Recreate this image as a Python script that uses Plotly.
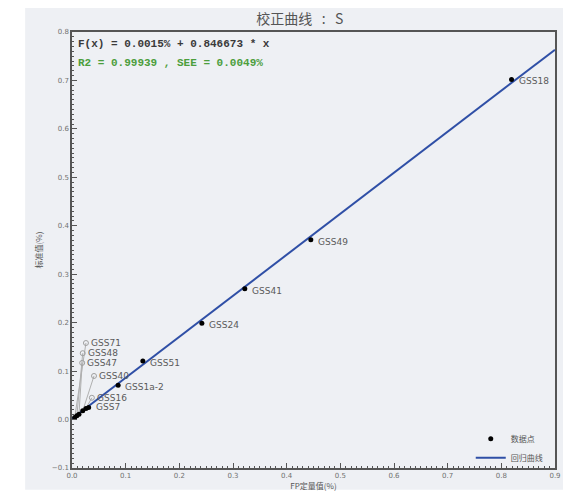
import numpy as np
import plotly.graph_objects as go

# ---- data ----
sample_names = ["GSS18", "GSS49", "GSS41", "GSS24", "GSS51", "GSS1a-2",
                "GSS7", "GSS16", "GSS40", "GSS47", "GSS48", "GSS71"]
fp_values = [0.819, 0.445, 0.322, 0.242, 0.132, 0.086,
             0.031, 0.026, 0.020, 0.013, 0.009, 0.005]
std_values = [0.702, 0.371, 0.270, 0.199, 0.121, 0.071,
              0.025, 0.023, 0.018, 0.011, 0.008, 0.004]
intercept = 0.0015
slope = 0.846673
x_ticks = [0.0, 0.1, 0.2, 0.3, 0.4, 0.5, 0.6, 0.7, 0.8, 0.9]
y_ticks = [-0.1, 0.0, 0.1, 0.2, 0.3, 0.4, 0.5, 0.6, 0.7, 0.8]

# label placement (layout) for crowded points: name -> (label x, label y) in data units
leader_labels = {
    "GSS71": (0.026, 0.158),
    "GSS48": (0.020, 0.137),
    "GSS47": (0.019, 0.117),
    "GSS40": (0.041, 0.090),
    "GSS16": (0.037, 0.045),
}

GRAY_BG = "#eef0f4"
LABEL_COLOR = "#5a5a5a"

fig = go.Figure()

# regression line
xl = np.array([0.0, 0.9])
fig.add_trace(go.Scatter(x=xl, y=intercept + slope * xl, mode="lines",
                         line=dict(color="#2f4fa6", width=2),
                         name="回归曲线", showlegend=True))

# leader lines with circle at label end
for name, (lx, ly) in leader_labels.items():
    i = sample_names.index(name)
    fig.add_trace(go.Scatter(x=[fp_values[i], lx], y=[std_values[i], ly],
                             mode="lines", line=dict(color="#b0b0b0", width=1),
                             showlegend=False, hoverinfo="skip"))
    fig.add_trace(go.Scatter(x=[lx], y=[ly], mode="markers",
                             marker=dict(symbol="circle-open", size=5,
                                         color="#a0a0a0", line=dict(width=1)),
                             showlegend=False, hoverinfo="skip"))

# data points
fig.add_trace(go.Scatter(x=fp_values, y=std_values, mode="markers",
                         marker=dict(color="black", size=5),
                         name="数据点", showlegend=True))

# labels
for name, x, y in zip(sample_names, fp_values, std_values):
    if name in leader_labels:
        lx, ly = leader_labels[name]
        fig.add_annotation(x=lx, y=ly, text=name, showarrow=False,
                           xanchor="left", yanchor="middle", xshift=3,
                           font=dict(size=9, color=LABEL_COLOR, family="DejaVu Sans"))
    else:
        fig.add_annotation(x=x, y=y, text=name, showarrow=False,
                           xanchor="left", yanchor="middle", xshift=5,
                           yshift=-2 if name != "GSS7" else 0,
                           font=dict(size=9, color=LABEL_COLOR, family="DejaVu Sans"))

# equation text
fig.add_annotation(xref="paper", yref="paper", x=0.008, y=0.99,
                   text="<b>F(x) = 0.0015% + 0.846673 * x</b>", showarrow=False,
                   xanchor="left", yanchor="top",
                   font=dict(size=11, color="#3a3a3a", family="Liberation Mono"))
fig.add_annotation(xref="paper", yref="paper", x=0.008, y=0.947,
                   text="<b>R2 = 0.99939 , SEE = 0.0049%</b>", showarrow=False,
                   xanchor="left", yanchor="top",
                   font=dict(size=11, color="#4c9e3c", family="Liberation Mono"))

# gray panel behind whole chart
fig.add_shape(type="rect", xref="paper", yref="paper",
              x0=-0.097, x1=1.0166, y0=-0.05, y1=1.08,
              fillcolor=GRAY_BG, line=dict(width=0), layer="below")

axis_common = dict(showgrid=False, zeroline=False, showline=True, mirror=True,
                   automargin=False,
                   linecolor="#555555", linewidth=1.5,
                   ticks="inside", ticklen=5, tickcolor="#555555",
                   tickfont=dict(size=7, color="#707070", family="DejaVu Sans"),
                   tickformat=".1f",
                   minor=dict(ticks="inside", ticklen=2, tickcolor="#555555", dtick=0.01))

fig.update_xaxes(range=[0, 0.9], tickvals=x_ticks, **axis_common,
                 title=dict(text="FP定量值(%)", standoff=3,
                            font=dict(size=8, color="#555555", family="Noto Sans CJK SC")))
fig.update_yaxes(range=[-0.1, 0.8], tickvals=y_ticks, **axis_common,
                 title=dict(text="标准值(%)", standoff=8,
                            font=dict(size=8, color="#555555", family="Noto Sans CJK SC")))

fig.update_layout(
    width=560, height=488,
    margin=dict(l=64, r=13, t=24, b=28),
    paper_bgcolor="white", plot_bgcolor=GRAY_BG,
    title=dict(text="校正曲线&nbsp;&nbsp;&nbsp;:&nbsp;&nbsp;&nbsp;S", x=0.521, xanchor="center",
               y=0.977, yanchor="middle",
               font=dict(size=14, color="#555555", family="Noto Sans CJK SC")),
    legend=dict(x=0.985, y=-0.01, xanchor="right", yanchor="bottom",
                bgcolor="rgba(0,0,0,0)", font=dict(size=8, color="#555555", family="Noto Sans CJK SC"),
                itemwidth=30, traceorder="reversed"),
    showlegend=True,
)

fig.write_html("out.html")
